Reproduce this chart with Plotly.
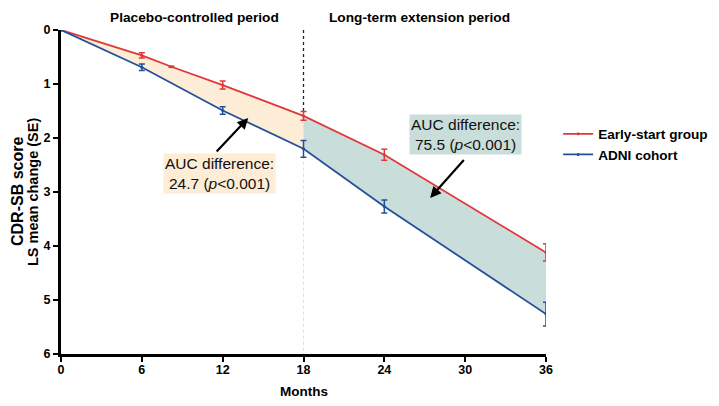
import plotly.graph_objects as go

# months and LS mean change in CDR-SB
months_early = [0, 6, 8.2, 12, 18, 24, 36]
early_mean = [0, 0.47, 0.68, 1.02, 1.59, 2.31, 4.12]
early_se = [0, 0.05, 0.01, 0.074, 0.083, 0.10, 0.16]

months_adni = [0, 6, 12, 18, 24, 36]
adni_mean = [0, 0.69, 1.49, 2.20, 3.27, 5.26]
adni_se = [0, 0.06, 0.07, 0.155, 0.12, 0.22]

x_ticks = [0, 6, 12, 18, 24, 30, 36]
y_ticks = [0, 1, 2, 3, 4, 5, 6]

RED = "#E0383A"
BLUE = "#24509A"
FONT = "Liberation Sans, Arial, sans-serif"

fig = go.Figure()

# shaded areas between the two curves
def band(lo, hi, color):
    rx = [m for m in months_early if lo <= m <= hi]
    ry = [v for m, v in zip(months_early, early_mean) if lo <= m <= hi]
    bx = [m for m in months_adni if lo <= m <= hi]
    by = [v for m, v in zip(months_adni, adni_mean) if lo <= m <= hi]
    fig.add_trace(go.Scatter(x=rx + bx[::-1], y=ry + by[::-1], fill="toself",
                             fillcolor=color, line=dict(width=0), mode="lines",
                             showlegend=False, hoverinfo="skip"))

band(0, 18, "rgb(253,236,214)")
band(18, 36, "rgb(201,222,218)")

fig.add_trace(go.Scatter(
    x=months_early, y=early_mean, mode="lines+markers", name="Early-start group",
    line=dict(color=RED, width=1.8), marker=dict(size=3, color=RED),
    error_y=dict(type="data", array=early_se, color=RED, thickness=1.5, width=3)))

fig.add_trace(go.Scatter(
    x=months_adni, y=adni_mean, mode="lines+markers", name="ADNI cohort",
    line=dict(color=BLUE, width=1.8), marker=dict(size=3, color=BLUE),
    error_y=dict(type="data", array=adni_se, color=BLUE, thickness=1.5, width=3)))

# divider at month 18
fig.add_shape(type="line", x0=18, x1=18, y0=0, y1=1.55, layer="below",
              line=dict(color="#222222", width=1.3, dash="dot"))
fig.add_shape(type="line", x0=18, x1=18, y0=1.55, y1=6, layer="below",
              line=dict(color="#dddddd", width=1, dash="dot"))

# AUC boxes
fig.add_annotation(x=11.77, y=2.65, xref="x", yref="y", showarrow=False,
                   xanchor="center", yanchor="middle",
                   text="AUC difference:<br>24.7 (<i>p</i><0.001)",
                   font=dict(family=FONT, size=15.5, color="#111111"),
                   bgcolor="rgb(253,236,214)", borderpad=1)
fig.add_annotation(x=30.0, y=1.93, xref="x", yref="y", showarrow=False,
                   xanchor="center", yanchor="middle",
                   text="AUC difference:<br>75.5 (<i>p</i><0.001)",
                   font=dict(family=FONT, size=15.5, color="#111111"),
                   bgcolor="rgb(201,222,218)", borderpad=1)

# arrows
fig.add_annotation(x=13.9, y=1.63, ax=11.45, ay=2.28, xref="x", yref="y",
                   axref="x", ayref="y", text="", showarrow=True,
                   arrowhead=2, arrowsize=1, arrowwidth=2.2, arrowcolor="black")
fig.add_annotation(x=27.4, y=3.11, ax=30.0, ay=2.38, xref="x", yref="y",
                   axref="x", ayref="y", text="", showarrow=True,
                   arrowhead=2, arrowsize=1, arrowwidth=2.2, arrowcolor="black")

# period labels
fig.add_annotation(x=9.9, y=1.040, xref="x", yref="paper", showarrow=False,
                   xanchor="center", yanchor="middle",
                   text="<b>Placebo-controlled period</b>",
                   font=dict(family=FONT, size=13.7, color="black"))
fig.add_annotation(x=26.6, y=1.040, xref="x", yref="paper", showarrow=False,
                   xanchor="center", yanchor="middle",
                   text="<b>Long-term extension period</b>",
                   font=dict(family=FONT, size=13.7, color="black"))

# axis titles
fig.add_annotation(x=-0.0907, y=0.5, xref="paper", yref="paper", showarrow=False,
                   xanchor="center", yanchor="middle",
                   textangle=-90, text="<b>CDR-SB score</b>",
                   font=dict(family=FONT, size=16, color="black"))
fig.add_annotation(x=-0.0577, y=0.5, xref="paper", yref="paper", showarrow=False,
                   xanchor="center", yanchor="middle",
                   textangle=-90, text="<b>LS mean change (SE)</b>",
                   font=dict(family=FONT, size=14.5, color="black"))
fig.add_annotation(x=18, y=-0.117, xref="x", yref="paper", showarrow=False,
                   xanchor="center", yanchor="middle",
                   text="<b>Months</b>",
                   font=dict(family=FONT, size=13.5, color="black"))

fig.update_xaxes(range=[0, 36], tickvals=x_ticks, ticktext=[f"<b>{t}</b>" for t in x_ticks],
                 showline=True, linecolor="black", linewidth=3, ticks="outside",
                 ticklen=5, tickwidth=2, tickcolor="black", showgrid=False,
                 zeroline=False, ticklabelstandoff=-3,
                 tickfont=dict(family=FONT, size=12.5, color="black"))
fig.update_yaxes(range=[6, 0], tickvals=y_ticks, ticktext=[f"<b>{t}</b>" for t in y_ticks],
                 showline=True, linecolor="black", linewidth=3, ticks="outside",
                 ticklen=5, tickwidth=2, tickcolor="black", showgrid=False,
                 zeroline=False, tickfont=dict(family=FONT, size=12.5, color="black"))

# page body adds an 8px offset; margins shifted by 8px, figure keeps full size
# so the outside legend has room and does not push the right margin
fig.update_layout(
    width=719, height=406,
    margin=dict(l=53, r=181, t=22, b=60),
    plot_bgcolor="white", paper_bgcolor="white",
    font=dict(family=FONT, color="black"),
    legend=dict(x=1.025, y=0.727, xanchor="left", yanchor="top",
                font=dict(family=FONT, size=13.6, color="black", weight="bold"),
                bgcolor="rgba(0,0,0,0)", itemwidth=30, tracegroupgap=2),
)

fig.write_html("out.html")
